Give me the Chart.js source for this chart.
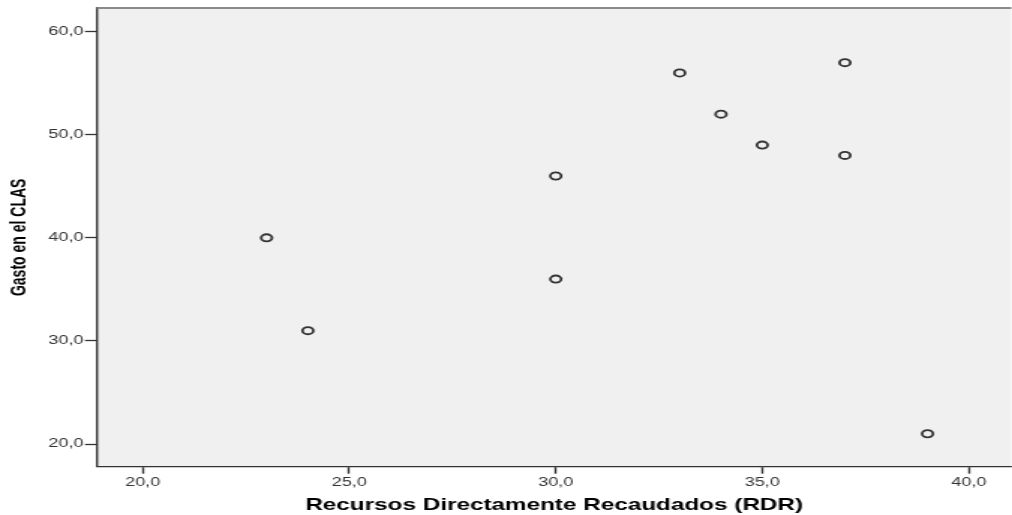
<!DOCTYPE html>
<html>
<head>
<meta charset="utf-8">
<script src="https://cdn.jsdelivr.net/npm/chart.js@4/dist/chart.umd.min.js"></script>
<style>
  html, body { margin: 0; padding: 0; background: #ffffff; overflow: hidden; width: 1012px; height: 515px; }
  #wrap { width: 680px; height: 515px; transform: scaleX(1.49926); transform-origin: 0 0; }
  canvas { display: block; }
</style>
</head>
<body>
<div id="wrap"><canvas id="c" width="680" height="515"></canvas></div>
<script>
// Data
const xValues = [23, 24, 30, 30, 33, 34, 35, 37, 37, 39];
const yValues = [40, 31, 46, 36, 56, 52, 49, 57, 48, 21];
const xTicks = [20, 25, 30, 35, 40];
const yTicks = [20, 30, 40, 50, 60];
const xTitle = 'Recursos Directamente Recaudados (RDR)';
const yTitle = 'Gasto en el CLAS';

const points = xValues.map((x, i) => ({ x: x, y: yValues[i] }));
const fmt = v => Number(v).toFixed(1).replace('.', ',');

const framePlugin = {
  id: 'frame',
  beforeDraw(chart) {
    const { ctx, chartArea: a } = chart;
    ctx.save();
    ctx.fillStyle = '#f0f0f0';
    ctx.fillRect(a.left, a.top, a.right - a.left, a.bottom - a.top);
    ctx.restore();
  },
  afterDraw(chart) {
    const { ctx, chartArea: a } = chart;
    ctx.save();
    ctx.strokeStyle = '#8a8a8a';
    ctx.lineWidth = 2;
    ctx.beginPath();
    ctx.moveTo(a.left, a.top);
    ctx.lineTo(a.right, a.top);
    ctx.stroke();
    ctx.restore();
  }
};

new Chart(document.getElementById('c'), {
  type: 'scatter',
  data: {
    datasets: [{
      data: points,
      pointStyle: 'circle',
      pointRadius: 3.6,
      pointHoverRadius: 3.6,
      pointBorderWidth: 1.8,
      pointBorderColor: '#333333',
      pointBackgroundColor: 'rgba(0,0,0,0)'
    }]
  },
  options: {
    responsive: false,
    animation: false,
    devicePixelRatio: 1,
    layout: { padding: { top: 8, right: 0, bottom: 0, left: 0 } },
    plugins: { legend: { display: false }, tooltip: { enabled: false } },
    scales: {
      x: {
        type: 'linear',
        min: 18.894,
        max: 41.03,
        afterBuildTicks: s => { s.ticks = xTicks.map(v => ({ value: v })); },
        afterFit: s => { s.height = 48.3; s.paddingRight = 0; s.paddingLeft = 0; },
        grid: { drawOnChartArea: false, drawTicks: true, tickLength: 7, tickColor: '#333333', tickWidth: 1.4 },
        border: { display: true, color: '#333333', width: 1.2 },
        ticks: { callback: v => fmt(v), font: { family: 'Liberation Sans, Arial', size: 12 }, color: '#333333', padding: 2, maxRotation: 0, autoSkip: false },
        title: { display: true, text: xTitle, font: { family: 'Liberation Sans, Arial', size: 16.2, weight: 'bold' }, color: '#000000', padding: { top: 0, bottom: 0 } }
      },
      y: {
        type: 'linear',
        min: 17.8,
        max: 62.3,
        afterBuildTicks: s => { s.ticks = yTicks.map(v => ({ value: v })); },
        afterFit: s => { s.width = 64.67; s.paddingTop = 0; s.paddingBottom = 0; },
        grid: { drawOnChartArea: false, drawTicks: true, tickLength: 8, tickColor: '#333333', tickWidth: 1.3 },
        border: { display: true, color: '#333333', width: 1.4 },
        ticks: { callback: v => fmt(v), font: { family: 'Liberation Sans, Arial', size: 12 }, color: '#333333', padding: 1, autoSkip: false },
        title: { display: true, text: yTitle, font: { family: 'Liberation Sans, Arial', size: 14, weight: 'bold' }, color: '#000000', padding: { top: 5, bottom: 0 } }
      }
    }
  },
  plugins: [framePlugin]
});
</script>
</body>
</html>
